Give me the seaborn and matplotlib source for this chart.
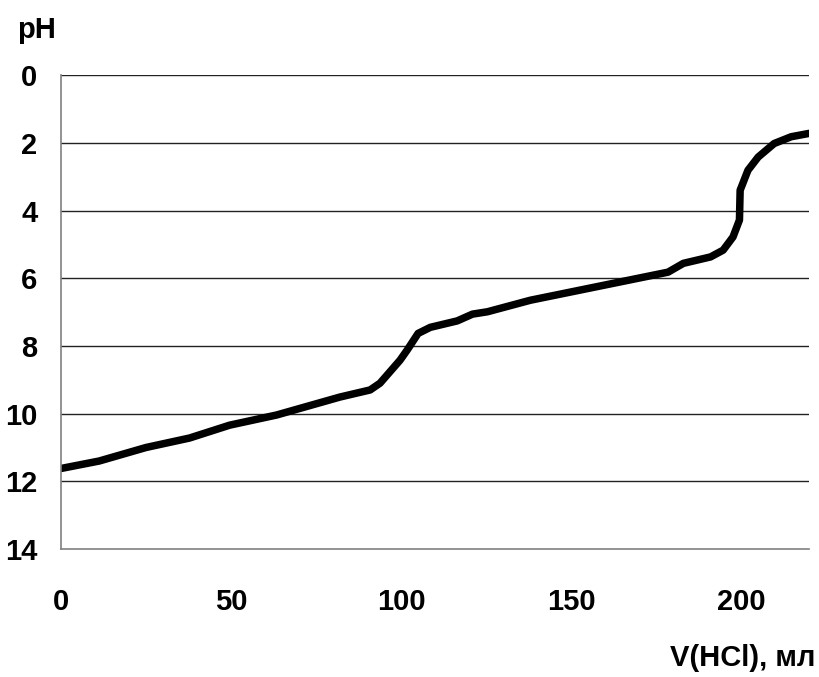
import matplotlib
matplotlib.use("Agg")
import matplotlib.pyplot as plt
import seaborn as sns
import pandas as pd

volume_ml = [0, 11.2, 25, 37.8, 49.6, 63.4, 82, 90.9, 93.8, 99.7, 101.8, 105, 108.6,
             116.5, 121, 125.4, 138, 158, 178.5, 183, 191, 194.7, 197.6, 199.5,
             199.7, 202, 205, 209.7, 214.7, 220]
ph_values = [11.62, 11.4, 11.0, 10.72, 10.34, 10.04, 9.51, 9.3, 9.1, 8.42, 8.12, 7.63, 7.45,
             7.26, 7.06, 6.99, 6.65, 6.24, 5.82, 5.56, 5.37, 5.17, 4.78, 4.28,
             3.40, 2.81, 2.42, 2.02, 1.82, 1.72]
x_ticks = [0, 50, 100, 150, 200]
y_ticks = [0, 2, 4, 6, 8, 10, 12, 14]

df = pd.DataFrame({"V": volume_ml, "pH": ph_values})

sns.set_style("white")
plt.rcParams['font.family'] = ['Liberation Sans', 'DejaVu Sans']
plt.rcParams['text.color'] = 'black'
plt.rcParams['xtick.color'] = 'black'
plt.rcParams['ytick.color'] = 'black'

fig = plt.figure(figsize=(8.19, 6.77), dpi=100)
ax = fig.add_axes([0.0745, 0.189, 0.9135, 0.700])

sns.lineplot(data=df, x="V", y="pH", ax=ax, color="black", linewidth=5.4,
             sort=False, estimator=None, solid_capstyle="round", solid_joinstyle="round")

ax.set_xlim(0, 220)
ax.set_ylim(14, 0)
ax.set_xticks(x_ticks)
ax.set_yticks(y_ticks)
ax.set_xticklabels([str(t) for t in x_ticks], fontsize=21, fontweight="bold", color="black")
ax.set_yticklabels([str(t) for t in y_ticks], fontsize=21, fontweight="bold", color="black")

for y in y_ticks[:-1]:
    ax.axhline(y, color="#222222", linewidth=1.0, zorder=0)

for s in ["top", "right"]:
    ax.spines[s].set_visible(False)
ax.spines["left"].set_color("#808080")
ax.spines["bottom"].set_color("#808080")
ax.spines["left"].set_linewidth(1.2)
ax.spines["bottom"].set_linewidth(1.2)

ax.tick_params(axis="y", direction="out", length=8, width=1, color="#222222", pad=9)
ax.tick_params(axis="x", direction="in", length=8, width=1, color="#222222", pad=28)
ax.set_xlabel("")
ax.set_ylabel("")

fig.text(0.021, 0.955, "pH", fontsize=21, fontweight="bold", color="black", ha="left", va="center")
fig.text(0.995, 0.028, "V(HCl), мл", fontsize=21, fontweight="bold", color="black",
         ha="right", va="center")

fig.savefig("out.png", dpi=100)
